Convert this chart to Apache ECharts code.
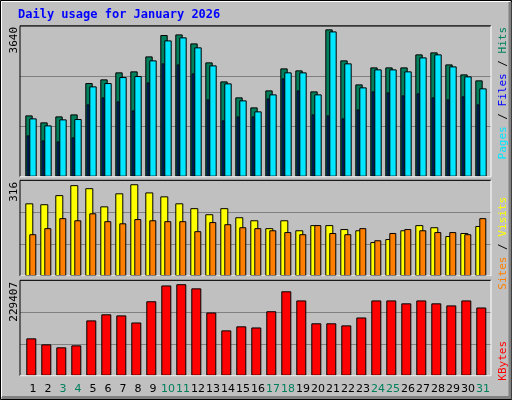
<!DOCTYPE html><html><head><meta charset="utf-8">
<script src="https://cdn.jsdelivr.net/npm/echarts@6/dist/echarts.min.js"></script>
<style>html,body{margin:0;padding:0;background:#c0c0c0}#c{width:512px;height:400px}</style></head><body><div id="c"></div>
<script>
const days = Array.from({length:31},(_,i)=>String(i+1));
const weekendDays = ['3','4','10','11','17','18','24','25','31'];
const hits = [1479,1311,1455,1503,2259,2348,2517,2541,2902,3417,3433,3216,2758,2299,1914,1672,2082,2613,2565,2058,3554,2806,2227,2637,2637,2637,2951,2999,2709,2468,2324];
const files = [1407,1238,1383,1391,2179,2259,2404,2428,2806,3288,3361,3120,2685,2251,1841,1576,1986,2517,2517,1986,3505,2734,2155,2589,2589,2541,2878,2951,2661,2420,2131];
const pages = [997,876,852,949,1745,1914,1817,1600,2275,2734,2709,2492,1865,1359,1455,1455,1889,2372,2082,1503,1479,1407,1624,2058,2034,1962,2010,1914,1865,1938,1745];
const visits = [240,237,267,300,290,230,273,303,276,263,240,224,204,224,194,184,158,184,151,168,168,155,151,112,122,151,168,161,132,142,165];
const sites = [138,158,191,184,207,181,174,188,184,181,181,148,178,171,161,158,151,145,138,168,142,138,158,118,142,155,151,145,145,138,191];
const kbytes = [89800,75400,68200,73000,133000,147600,145000,128000,179000,217000,220000,210000,152000,109000,118700,116000,155000,203000,181000,126000,126000,121000,140000,181000,181000,174000,181000,174000,169000,181000,164000];
const maxTop = 3640, maxMid = 316, maxBot = 229407;

const chart = echarts.init(document.getElementById('c'));
const S = 15; // px per day
const xmin = 1 - 8/S, xmax = 31 + 13/S;
const grids = [
  {left:20, width:471, top:25.8, height:150.9},
  {left:20, width:471, top:180.3, height:95.7},
  {left:20, width:471, top:280.3, height:95.4},
  {left:25.5, width:465, top:280.3, height:95.4}
];
const xAxes = [], yAxes = [], series = [];
function vx(g){ xAxes.push({type:'value', gridIndex:g, min:xmin, max:xmax, show:false}); return xAxes.length-1; }
[maxTop,maxMid,maxBot].forEach((m,g)=>yAxes.push({type:'value',gridIndex:g,min:0,max:m,interval:m/3,
  axisLabel:{show:false},axisTick:{show:false},axisLine:{show:false},
  splitLine:{show:true,lineStyle:{color:'#808080',width:1}}}));
yAxes.push({type:'value',gridIndex:3,show:false});
function bar(arr, g, off, w, color){
  const xi = vx(g);
  series.push({type:'bar', xAxisIndex:xi, yAxisIndex:g, barWidth:w, silent:true,
    data: arr.map((v,i)=>[i+1+off/S, v]),
    itemStyle:{color:color, borderColor:'#000', borderWidth:1}});
}
bar(hits,0,1,7.4,'#00805c');
bar(files,0,5,7.4,'#00e6ff');
bar(pages,0,0,2.7,'#0040ff');
bar(visits,1,1.3,8,'#ffff00');
bar(sites,1,4.8,7,'#ff8000');
bar(kbytes,2,3.3,10,'#ff0000');
xAxes.push({type:'category', gridIndex:3, data: days.map(d=>({value:d,textStyle:{color: weekendDays.includes(d)?'#00805c':'#000'}})),
  axisLine:{show:false}, axisTick:{show:false},
  axisLabel:{interval:0, margin:8, fontSize:11, fontFamily:'DejaVu Sans'}});
series.push({type:'bar', xAxisIndex:xAxes.length-1, yAxisIndex:3, data:[]});

function panel(g){
  const x0=g.left, y0=g.top, x1=g.left+g.width, y1=g.top+g.height;
  return [
    {type:'polyline', z:10, shape:{points:[[x0,y1],[x0,y0],[x1,y0]]}, style:{stroke:'#000',lineWidth:1,fill:null}},
    {type:'polyline', z:10, shape:{points:[[x1,y0],[x1,y1],[x0,y1]]}, style:{stroke:'#fff',lineWidth:1,fill:null}}
  ];
}
const vt = (x,y,text,rich,font)=>({type:'text', x:x, y:y, rotation:Math.PI/2,
  style:{text:text, rich:rich, align:'right', verticalAlign:'middle', font:font||'11px DejaVu Sans Mono', fill:'#000'}});
chart.setOption({
  animation:false, backgroundColor:'#c0c0c0',
  grid: grids, xAxis:xAxes, yAxis:yAxes, series:series,
  graphic:[
    {type:'rect', z:-1, shape:{x:0.5,y:0.5,width:511,height:399}, style:{fill:null,stroke:'#000',lineWidth:1}},
    {type:'polyline', shape:{points:[[1.5,397],[1.5,1.5],[510,1.5]]}, style:{stroke:'#fff',lineWidth:1,fill:null}},
    {type:'polyline', shape:{points:[[510,2],[510,397.5],[2,397.5]]}, style:{stroke:'#808080',lineWidth:3,fill:null}},
    ...panel(grids[0]), ...panel(grids[1]), ...panel(grids[2]),
    {type:'text', x:18, y:15, style:{text:'Daily usage for January 2026', font:'bold 12px DejaVu Sans Mono', fill:'#0000ff', verticalAlign:'middle'}},
    vt(14,27,String(maxTop)), vt(14,182,String(maxMid)), vt(14,282,String(maxBot)),
    vt(503,27,'{p|Pages} / {f|Files} / {h|Hits}',{p:{fill:'#00e6ff',font:'11px DejaVu Sans Mono'},f:{fill:'#0000ff',font:'11px DejaVu Sans Mono'},h:{fill:'#00805c',font:'11px DejaVu Sans Mono'}}),
    vt(503,197,'{s|Sites} / {v|Visits}',{s:{fill:'#ff8000',font:'11px DejaVu Sans Mono'},v:{fill:'#ffff00',font:'11px DejaVu Sans Mono'}}),
    vt(503,341,'{k|KBytes}',{k:{fill:'#ff0000',font:'11px DejaVu Sans Mono'}})
  ]
});
</script></body></html>
